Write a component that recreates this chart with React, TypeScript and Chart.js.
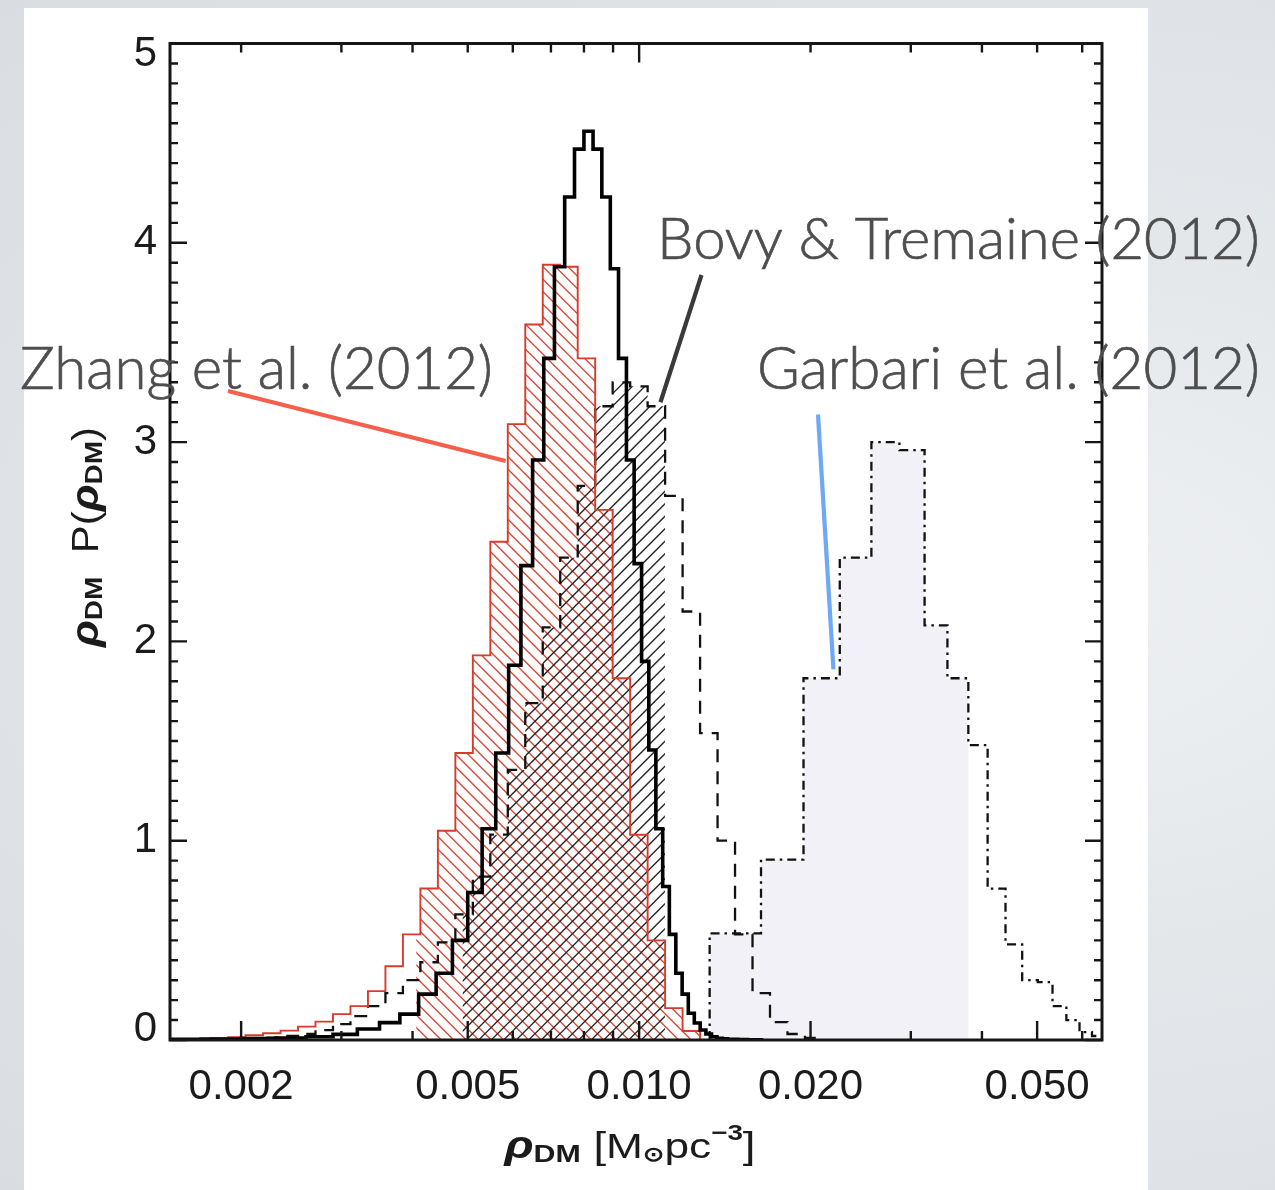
import { useEffect, useRef } from 'react';
import { Chart, registerables } from 'chart.js';

Chart.register(...registerables);

// ---- axes ----
const X_MIN = 0.0015;
const X_MAX = 0.065;
const Y_MIN = 0;
const Y_MAX = 5;
const Y_TICK_LABELS = [0, 1, 2, 3, 4, 5];
const X_TICK_LABELS = [0.002, 0.005, 0.01, 0.02, 0.05];
const X_MINOR_TICKS = [0.002, 0.003, 0.004, 0.005, 0.006, 0.007, 0.008, 0.009, 0.01, 0.02, 0.03, 0.04, 0.05, 0.06];
const X_TOP_MAJOR = [0.01];

// ---- this work: linear bins in rho_DM ----
const MAIN_FIRST_EDGE = 0.0014;
const MAIN_BIN_WIDTH = 0.0003;
const MAIN_VALUES = [
  0.004, 0.005, 0.007, 0.01, 0.016, 0.028, 0.055, 0.087, 0.13, 0.23,
  0.335, 0.5, 0.74, 1.06, 1.44, 1.88, 2.38, 2.91, 3.42, 3.88,
  4.23, 4.47, 4.56, 4.47, 4.23, 3.87, 3.42, 2.91, 2.39, 1.9,
  1.455, 1.06, 0.77, 0.53, 0.335, 0.23, 0.134, 0.085, 0.05, 0.03,
  0.016, 0.009, 0.006, 0.004, 0.003, 0.002, 0.002, 0.001, 0.001, 0.001,
];

// ---- Zhang et al. (2012) and Bovy & Tremaine (2012): shared log-spaced bins ----
const LOG_FIRST_EDGE = 0.00143;
const LOG_BIN_DEX = 0.0307;
const ZHANG_VALUES = [
  0.002, 0.003, 0.005, 0.009, 0.014, 0.024, 0.034, 0.047, 0.067, 0.092,
  0.13, 0.17, 0.245, 0.37, 0.53, 0.76, 1.05, 1.44, 1.93, 2.5,
  3.09, 3.59, 3.89, 3.88, 3.42, 2.66, 1.815, 1.03, 0.5, 0.16,
  0.045,
];
const ZHANG_HATCH = [0.00406, 0.0135];
const BOVY_VALUES = [
  0, 0, 0.002, 0.003, 0.005, 0.008, 0.012, 0.02, 0.03, 0.05,
  0.08, 0.12, 0.17, 0.235, 0.3, 0.39, 0.49, 0.63, 0.82, 1.03,
  1.355, 1.69, 2.07, 2.42, 2.78, 3.18, 3.3, 3.28, 3.18, 2.73,
  2.15, 1.54, 1.0, 0.53, 0.235, 0.09, 0.03, 0.01,
];
const BOVY_HATCH = [0.0049, 0.0111];

// ---- Garbari et al. (2012): linear bins ----
const GARBARI_FIRST_EDGE = 0.0133;
const GARBARI_BIN_WIDTH = 0.00307;
const GARBARI_VALUES = [
  0.535, 0.905, 1.815, 2.42, 3.0, 2.96, 2.08, 1.815, 1.48, 0.76,
  0.48, 0.3, 0.29, 0.17, 0.1, 0.04, 0.02,
];
const GARBARI_SHADED_BINS = 8;

// pointer targets (rho_DM, value)
const ZHANG_POINTER = [0.00583, 2.905];
const BOVY_POINTER = [0.0109, 3.2];
const GARBARI_POINTER = [0.02194, 1.86];

type Pt = { x: number; y: number };

const linEdges = (first: number, w: number, n: number) =>
  Array.from({ length: n + 1 }, (_, i) => first + w * i);
const logEdges = (first: number, dex: number, n: number) =>
  Array.from({ length: n + 1 }, (_, i) => first * Math.pow(10, dex * i));

function stepPoints(edges: number[], values: number[]): Pt[] {
  const pts: Pt[] = [{ x: edges[0], y: 0 }];
  values.forEach((v, i) => pts.push({ x: edges[i], y: v }));
  pts.push({ x: edges[edges.length - 1], y: values[values.length - 1] });
  pts.push({ x: edges[edges.length - 1], y: 0 });
  return pts;
}

const TICK_FONT = '"Liberation Sans", Arial, sans-serif';
const NOTE_FONT = 'Lato, "Open Sans", sans-serif';

type Shade = {
  dataset: number;
  lo: number;
  hi: number;
  kind: 'fill' | 'back' | 'fwd';
  color: string;
  spacing?: number;
  width?: number;
};

type Run = { t: string; font: string; dy: number };

function drawRuns(ctx: CanvasRenderingContext2D, runs: Run[], target: number) {
  let w = 0;
  runs.forEach((r) => {
    ctx.font = r.font;
    w += ctx.measureText(r.t).width;
  });
  const k = target / w;
  ctx.save();
  ctx.scale(k, 1);
  let x = -w / 2;
  runs.forEach((r) => {
    ctx.font = r.font;
    ctx.fillText(r.t, x, r.dy);
    x += ctx.measureText(r.t).width;
  });
  ctx.restore();
}

function fittedNote(ctx: CanvasRenderingContext2D, text: string, x: number, baseline: number, width: number) {
  ctx.font = `300 50px ${NOTE_FONT}`;
  const w = ctx.measureText(text).width;
  const size = (50 * width) / w;
  ctx.font = `300 ${size}px ${NOTE_FONT}`;
  ctx.fillText(text, x, baseline);
  ctx.strokeText(text, x, baseline);
}

export default function App() {
  const ref = useRef<HTMLCanvasElement>(null);

  useEffect(() => {
    const mainEdges = linEdges(MAIN_FIRST_EDGE, MAIN_BIN_WIDTH, MAIN_VALUES.length);
    const zhangEdges = logEdges(LOG_FIRST_EDGE, LOG_BIN_DEX, ZHANG_VALUES.length);
    const bovyEdges = logEdges(LOG_FIRST_EDGE, LOG_BIN_DEX, BOVY_VALUES.length);
    const garbariEdges = linEdges(GARBARI_FIRST_EDGE, GARBARI_BIN_WIDTH, GARBARI_VALUES.length);

    const shades: Shade[] = [
      { dataset: 3, lo: garbariEdges[0], hi: garbariEdges[GARBARI_SHADED_BINS], kind: 'fill', color: '#f1f1f7' },
      { dataset: 1, lo: ZHANG_HATCH[0], hi: ZHANG_HATCH[1], kind: 'back', color: '#d64a3a', spacing: 12.5, width: 1.35 },
      { dataset: 2, lo: BOVY_HATCH[0], hi: BOVY_HATCH[1], kind: 'fwd', color: '#262626', spacing: 12.5, width: 1.3 },
    ];

    const histShade = {
      id: 'histShade',
      beforeDatasetsDraw(chart: any) {
        const { ctx, chartArea: a } = chart;
        const xs = chart.scales.x;
        const ys = chart.scales.y;
        for (const s of shades) {
          const pts = chart.data.datasets[s.dataset].data as Pt[];
          const left = Math.max(a.left, xs.getPixelForValue(s.lo));
          const right = Math.min(a.right, xs.getPixelForValue(s.hi));
          ctx.save();
          ctx.beginPath();
          ctx.rect(left, a.top, right - left, a.height);
          ctx.clip();
          ctx.beginPath();
          let prevY = ys.getPixelForValue(pts[0].y);
          ctx.moveTo(xs.getPixelForValue(pts[0].x), prevY);
          for (let i = 1; i < pts.length; i++) {
            const px = xs.getPixelForValue(pts[i].x);
            const py = ys.getPixelForValue(pts[i].y);
            ctx.lineTo(px, prevY);
            ctx.lineTo(px, py);
            prevY = py;
          }
          ctx.closePath();
          if (s.kind === 'fill') {
            ctx.fillStyle = s.color;
            ctx.fill();
          } else {
            ctx.clip();
            ctx.strokeStyle = s.color;
            ctx.lineWidth = s.width || 1;
            const H = a.height;
            const step = s.spacing || 10;
            ctx.beginPath();
            for (let t = left - H; t < right + H; t += step) {
              if (s.kind === 'back') {
                ctx.moveTo(t, a.top);
                ctx.lineTo(t + H, a.bottom);
              } else {
                ctx.moveTo(t, a.bottom);
                ctx.lineTo(t + H, a.top);
              }
            }
            ctx.stroke();
          }
          ctx.restore();
        }
      },
    };

    const frameTicks = {
      id: 'frameTicks',
      afterDatasetsDraw(chart: any) {
        const { ctx, chartArea: a } = chart;
        const xs = chart.scales.x;
        const ys = chart.scales.y;
        ctx.save();
        ctx.strokeStyle = '#161616';
        ctx.lineWidth = 2.4;
        ctx.beginPath();
        for (let i = 0; i <= 50; i++) {
          const py = ys.getPixelForValue(i / 10);
          const len = i % 10 === 0 ? 17 : 8;
          ctx.moveTo(a.left, py);
          ctx.lineTo(a.left + len, py);
          ctx.moveTo(a.right, py);
          ctx.lineTo(a.right - len, py);
        }
        for (const v of X_MINOR_TICKS) {
          const px = xs.getPixelForValue(v);
          const lb = X_TICK_LABELS.includes(v) ? 19 : 9;
          const lt = X_TOP_MAJOR.includes(v) ? 19 : 9;
          ctx.moveTo(px, a.bottom);
          ctx.lineTo(px, a.bottom - lb);
          ctx.moveTo(px, a.top);
          ctx.lineTo(px, a.top + lt);
        }
        ctx.stroke();
        ctx.lineWidth = 3;
        ctx.strokeRect(a.left, a.top, a.width, a.height);

        // y tick labels; the end labels sit just inside the frame
        ctx.fillStyle = '#1b1b1b';
        ctx.font = `42px ${TICK_FONT}`;
        ctx.textAlign = 'right';
        ctx.textBaseline = 'middle';
        for (const v of Y_TICK_LABELS) {
          const nudge = v === Y_MIN ? -11 : v === Y_MAX ? 11 : 0;
          ctx.fillText(String(v), a.left - 13, ys.getPixelForValue(v) + nudge);
        }
        ctx.restore();
      },
    };

    const notes = {
      id: 'notes',
      afterDraw(chart: any) {
        const { ctx } = chart;
        const xs = chart.scales.x;
        const ys = chart.scales.y;
        ctx.save();
        ctx.fillStyle = '#1b1b1b';
        ctx.textAlign = 'left';
        ctx.textBaseline = 'alphabetic';

        // x-axis title
        ctx.save();
        ctx.translate(630, 1158);
        drawRuns(
          ctx,
          [
            { t: 'ρ', font: `italic bold 38px ${TICK_FONT}`, dy: 0 },
            { t: 'DM', font: `bold 24px ${TICK_FONT}`, dy: 4 },
            { t: ' [', font: `36px ${TICK_FONT}`, dy: 0 },
            { t: 'M', font: `35px ${TICK_FONT}`, dy: 0 },
            { t: '⊙', font: `bold 20px ${TICK_FONT}`, dy: 3 },
            { t: 'pc', font: `35px ${TICK_FONT}`, dy: 0 },
            { t: '−3', font: `bold 22px ${TICK_FONT}`, dy: -18 },
            { t: ']', font: `36px ${TICK_FONT}`, dy: 0 },
          ],
          251,
        );
        ctx.restore();

        // y-axis title
        ctx.save();
        ctx.translate(98, 537);
        ctx.rotate(-Math.PI / 2);
        drawRuns(
          ctx,
          [
            { t: 'ρ', font: `italic bold 38px ${TICK_FONT}`, dy: 0 },
            { t: 'DM', font: `bold 24px ${TICK_FONT}`, dy: 4 },
            { t: '  P(', font: `36px ${TICK_FONT}`, dy: 0 },
            { t: 'ρ', font: `italic bold 38px ${TICK_FONT}`, dy: 0 },
            { t: 'DM', font: `bold 24px ${TICK_FONT}`, dy: 4 },
            { t: ')', font: `36px ${TICK_FONT}`, dy: 0 },
          ],
          220,
        );
        ctx.restore();

        // callouts
        ctx.fillStyle = '#4e4e4e';
        ctx.strokeStyle = '#4e4e4e';
        ctx.lineWidth = 0.7;
        fittedNote(ctx, 'Bovy & Tremaine (2012)', 657, 258.5, 603);
        fittedNote(ctx, 'Zhang et al. (2012)', 20, 388.5, 473);
        fittedNote(ctx, 'Garbari et al. (2012)', 757, 388.5, 503);

        ctx.lineWidth = 4.2;
        ctx.lineCap = 'butt';
        const pointer = (x0: number, y0: number, target: number[], color: string) => {
          ctx.strokeStyle = color;
          ctx.beginPath();
          ctx.moveTo(x0, y0);
          ctx.lineTo(xs.getPixelForValue(target[0]), ys.getPixelForValue(target[1]));
          ctx.stroke();
        };
        pointer(228, 391, ZHANG_POINTER, '#f4604b');
        pointer(701.5, 275, BOVY_POINTER, '#3a3a3a');
        pointer(818, 414.5, GARBARI_POINTER, '#6fa8f6');
        ctx.restore();
      },
    };

    const common = { stepped: true, pointRadius: 0, fill: false, tension: 0 };
    const chart = new Chart(ref.current as HTMLCanvasElement, {
      type: 'line',
      data: {
        datasets: [
          { ...common, label: 'this work', data: stepPoints(mainEdges, MAIN_VALUES), borderColor: '#000000', borderWidth: 3.6, order: 0 },
          { ...common, label: 'Zhang et al. (2012)', data: stepPoints(zhangEdges, ZHANG_VALUES), borderColor: '#d63b2b', borderWidth: 1.9, order: 1 },
          { ...common, label: 'Bovy & Tremaine (2012)', data: stepPoints(bovyEdges, BOVY_VALUES), borderColor: '#111111', borderWidth: 2.3, borderDash: [13, 9], order: 2 },
          { ...common, label: 'Garbari et al. (2012)', data: stepPoints(garbariEdges, GARBARI_VALUES), borderColor: '#111111', borderWidth: 2.3, borderDash: [9, 5, 2.5, 5], order: 3 },
        ] as any,
      },
      options: {
        animation: false,
        responsive: false,
        devicePixelRatio: 1,
        events: [],
        layout: { padding: { left: 0, top: 43.5, right: 173, bottom: 0 } },
        plugins: { legend: { display: false }, tooltip: { enabled: false } },
        scales: {
          x: {
            type: 'logarithmic',
            min: X_MIN,
            max: X_MAX,
            afterFit: (s: any) => {
              s.height = 150;
            },
            afterBuildTicks: (s: any) => {
              s.ticks = X_TICK_LABELS.map((v) => ({ value: v }));
            },
            ticks: {
              autoSkip: false,
              maxRotation: 0,
              padding: 22,
              color: '#1b1b1b',
              font: { family: TICK_FONT, size: 42 },
              callback: (v: any) => Number(v).toFixed(3),
            },
            grid: { display: false, drawTicks: false },
            border: { display: false },
          },
          y: {
            type: 'linear',
            min: Y_MIN,
            max: Y_MAX,
            afterFit: (s: any) => {
              s.width = 170;
            },
            ticks: { display: false, stepSize: 1 },
            grid: { display: false, drawTicks: false },
            border: { display: false },
          },
        },
      } as any,
      plugins: [histShade, frameTicks, notes],
    });
    return () => chart.destroy();
  }, []);

  return (
    <div
      style={{
        position: 'absolute',
        left: 0,
        top: 0,
        width: 1275,
        height: 1190,
        overflow: 'hidden',
        background: 'radial-gradient(ellipse at 80% 50%, #eef0f2 0%, #e4e7ea 45%, #d9dde2 100%)',
      }}
    >
      <div style={{ position: 'absolute', left: 24, top: 8, width: 1124, height: 1182, background: '#ffffff' }} />
      <canvas
        ref={ref}
        width={1275}
        height={1190}
        style={{ position: 'absolute', left: 0, top: 0, width: 1275, height: 1190 }}
      />
    </div>
  );
}
